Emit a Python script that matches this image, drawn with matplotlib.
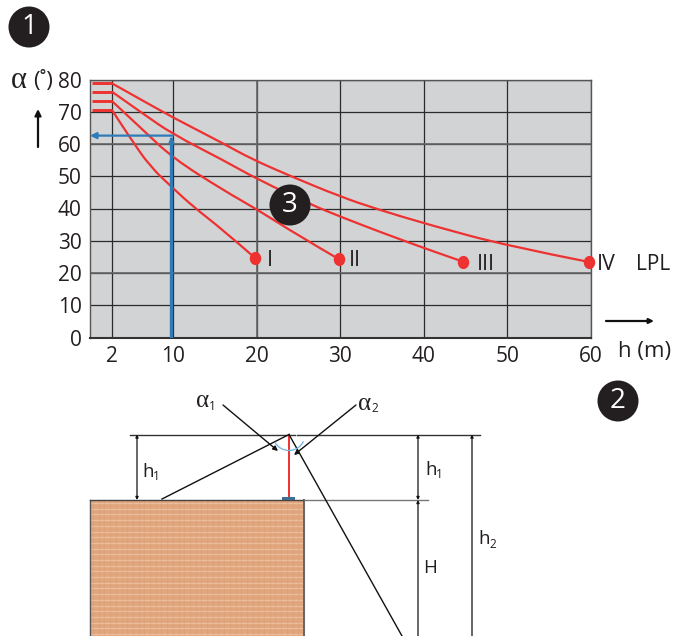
#!/usr/bin/env python3
"""Protection angle vs height per LPL class, with the mast sketch below."""

import matplotlib
matplotlib.use('Agg')
import matplotlib.pyplot as plt
import numpy as np
from matplotlib.patches import Arc, Circle, PathPatch, Rectangle
from matplotlib.path import Path
from matplotlib.transforms import Affine2D

plt.rcParams['font.family'] = ['Open Sans', 'DejaVu Sans']

# ============================================================
# Curve data
# ============================================================

h_i = [2, 4.4, 7, 10, 12.4, 16, 19.8]
a_i = [70.5, 61.8, 53, 46.3, 40.6, 33.3, 24.7]

h_ii = [2, 6, 10, 16, 20, 25.2, 29.9]
a_ii = [73.3, 64.5, 55.6, 45.7, 39.8, 31.3, 24.2]

h_iii = [2, 6, 10, 16, 20, 26.6, 30, 35.2, 40.7, 44.7]
a_iii = [76.2, 69.5, 63, 55, 49.2, 41.1, 37.5, 32.3, 27.1, 23.5]

h_iv = [2, 6, 10, 16, 19.2, 24, 30, 34.4, 40.7, 50, 59.8]
a_iv = [78.8, 73.5, 68.2, 60.2, 55.6, 50.1, 43.7, 39.8, 34.9, 28.4, 23.4]

curve_labels = ['I', 'II', 'III', 'IV']
x_ticks = [2, 10, 20, 30, 40, 50, 60]
y_ticks = [0, 10, 20, 30, 40, 50, 60, 70, 80]
read_h = 9.8
read_alpha = 62.6

C_RED = '#ee3131'
C_BLUE = '#2f7ab8'
C_TEXT = '#231f20'
C_GRID = '#2b2b2b'

W, H = 674, 636
fig = plt.figure(figsize=(W / 100, H / 100), dpi=100)

# ============================================================
# Chart
# ============================================================

# the "2" gridline is drawn wider apart than a linear axis would put it
scale_h = [0, 2, 10, 60]
scale_px = [90, 112, 173, 591]


def h_to_px(v):
    return np.interp(v, scale_h, scale_px)


def px_to_h(v):
    return np.interp(v, scale_px, scale_h)


def smooth_path(xs, ys):
    # quadratic segments: read points are controls, curve runs through midpoints
    pts = np.column_stack([xs, ys])
    verts = [pts[0]]
    codes = [Path.MOVETO]
    for i in range(1, len(pts) - 1):
        end = pts[i + 1] if i == len(pts) - 2 else (pts[i] + pts[i + 1]) / 2
        verts += [pts[i], end]
        codes += [Path.CURVE3, Path.CURVE3]
    return Path(verts, codes)


ax = fig.add_axes([90 / W, 1 - 337.5 / H, 501 / W, 258 / H])
ax.set_facecolor('#d1d3d4')
ax.set_xscale('function', functions=(h_to_px, px_to_h))
ax.set_xlim(0, 60)
ax.set_ylim(0, 80)
ax.set_xticks(x_ticks)
ax.set_yticks(y_ticks)
ax.minorticks_off()
ax.tick_params(length=0, labelsize=15, labelcolor=C_TEXT)
ax.tick_params(axis='x', pad=6)
ax.tick_params(axis='y', pad=6)
ax.grid(True, color=C_GRID, lw=0.9)
ax.set_axisbelow(True)
for y in [20, 60]:
    ax.axhline(y, color='#666666', lw=1.2, zorder=1)
ax.axvline(20, color='#666666', lw=1.2, zorder=1)
for name, sp in ax.spines.items():
    sp.set_color('#555555')
    sp.set_linewidth(1.0)
ax.spines['bottom'].set_color('#333333')
ax.spines['bottom'].set_linewidth(1.5)

dot = Path.unit_circle().transformed(Affine2D().scale(1, 1.15))
for hs, als in [(h_i, a_i), (h_ii, a_ii), (h_iii, a_iii), (h_iv, a_iv)]:
    ax.add_patch(PathPatch(smooth_path(hs, als), fc='none', ec=C_RED, lw=1.6, zorder=3))
    ax.plot([0.2, hs[0]], [als[0], als[0]], '-', color=C_RED, lw=2.1, zorder=3,
            solid_capstyle='butt')
    ax.plot(hs[-1], als[-1], marker=dot, color=C_RED, ms=9.5, zorder=4, clip_on=False,
            markeredgewidth=0)

# reading example
ax.plot([read_h, read_h], [0, read_alpha - 1], color=C_BLUE, lw=2.4, zorder=3)
ax.annotate('', xy=(read_h, read_alpha - 0.3), xytext=(read_h, read_alpha - 2.5),
            arrowprops=dict(arrowstyle='-|>', color=C_BLUE, lw=1.2, mutation_scale=8,
                            shrinkA=0, shrinkB=0), zorder=3)
ax.annotate('', xy=(0, read_alpha), xytext=(read_h + 0.2, read_alpha),
            arrowprops=dict(arrowstyle='-|>', color=C_BLUE, lw=1.6, mutation_scale=9,
                            shrinkA=0, shrinkB=0), zorder=3)

# ============================================================
# Overlay in pixel coordinates: sketch, badges, free labels
# ============================================================

ov = fig.add_axes([0, 0, 1, 1])
ov.set_xlim(0, W)
ov.set_ylim(H, 0)
ov.axis('off')
ov.patch.set_alpha(0)


def arrow(x0, y0, x1, y1, lw=1.0, ms=7, style='-|>'):
    ov.annotate('', xy=(x1, y1), xytext=(x0, y0), annotation_clip=False,
                arrowprops=dict(arrowstyle=style, color='#111111', lw=lw, mutation_scale=ms,
                                shrinkA=0, shrinkB=0))


def badge(x, y, s):
    ov.add_patch(Circle((x, y), 20.5, fc=C_TEXT, ec='none', zorder=6))
    ov.text(x, y + 0.5, s, color='white', fontsize=20, ha='center', va='center', zorder=7)


badge(29, 27, '1')
badge(618, 401, '2')
badge(290, 205, '3')

ov.text(11, 81, '\u03b1', fontsize=22, family='Liberation Serif', color=C_TEXT, va='center')
ov.text(33, 82, '(\u02da)', fontsize=16, color=C_TEXT, va='center')
arrow(38, 147, 38, 109, lw=1.6, ms=9)
arrow(606, 321, 654, 321, lw=1.6, ms=7)
ov.text(618, 351, 'h (m)', fontsize=16, color=C_TEXT, va='center')
ov.text(636, 264, 'LPL', fontsize=15, color=C_TEXT, va='center')

label_x = [267, 349, 477, 597]
label_y = [260, 261, 264, 265]
for s, lx, ly in zip(curve_labels, label_x, label_y):
    ov.text(lx, ly, s, fontsize=15.5, color=C_TEXT, va='center')

# building
roof_y, mast_x, top_y = 500, 289, 434.5
ov.add_patch(Rectangle((90, roof_y), 214, H - roof_y + 2, fc='#e2a67e', ec='none', zorder=1))
for gy in np.arange(roof_y + 3, H, 5.7):
    ov.plot([90, 304], [gy, gy], color='#f0c8aa', lw=0.9, alpha=0.75, zorder=1.1)
for gx in np.arange(93, 304, 5.7):
    ov.plot([gx, gx], [roof_y, H], color='#d99c72', lw=0.9, alpha=0.35, zorder=1.1)
ov.plot([90, 90], [roof_y, H], color='#555555', lw=1.0, zorder=2)
ov.plot([304, 304], [roof_y, H], color='#666666', lw=1.4, zorder=2)
ov.plot([90, 304], [roof_y, roof_y], color='#444444', lw=1.0, zorder=2)
ov.plot([304, 428], [roof_y, roof_y], color='#777777', lw=1.0, zorder=2)

# reference lines and the mast
ov.plot([130, 295], [top_y, top_y], color='#333333', lw=1.0)
ov.plot([297, 480], [top_y, top_y], color='#333333', lw=1.0)
ov.plot([mast_x, mast_x], [top_y, roof_y - 2], color=C_RED, lw=1.4, zorder=3)
ov.add_patch(Rectangle((282, roof_y - 3), 13, 3, fc='#3f6f95', ec='none', zorder=3))
ov.plot([mast_x, 162], [top_y, roof_y - 1], color='#111111', lw=1.0, zorder=3)
ov.plot([mast_x, 402], [top_y, H], color='#111111', lw=1.0, zorder=3)
ov.add_patch(Arc((mast_x, top_y), 32, 32, theta1=25, theta2=150, ec='#6db3e6', lw=0.9, zorder=3))

arrow(223, 405, 278, 451, lw=1.0, ms=7)
arrow(356, 405, 294, 455, lw=1.0, ms=7)

dim = '<|-|>'
arrow(137, top_y, 137, roof_y, lw=0.9, ms=4, style=dim)
arrow(418, top_y, 418, roof_y, lw=0.9, ms=4, style=dim)
arrow(418, roof_y, 418, H + 5, lw=0.9, ms=4, style=dim)
arrow(472, top_y, 472, H + 5, lw=0.9, ms=4, style=dim)


def sub_label(x, y, base, sub, serif=False):
    fam = 'Liberation Serif' if serif else 'Open Sans'
    size = 18 if serif else 13.5
    ov.text(x, y, base, fontsize=size, family=fam, color=C_TEXT, va='center')
    ov.text(x + (13 if serif else 11), y + 5, sub, fontsize=8.5, color=C_TEXT, va='center')


sub_label(196, 401, '\u03b1', '1', serif=True)
sub_label(358, 404, '\u03b1', '2', serif=True)
sub_label(142, 472, 'h', '1')
sub_label(425, 470, 'h', '1')
sub_label(478, 539, 'h', '2')
ov.text(423, 568, 'H', fontsize=13.5, color=C_TEXT, va='center')

fig.savefig('out.png', dpi=100)
